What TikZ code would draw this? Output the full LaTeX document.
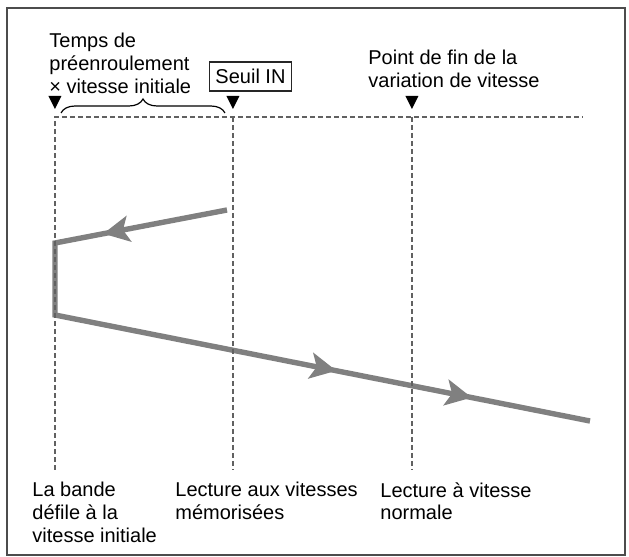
\documentclass[tikz,border=0pt]{standalone}
\usepackage{fontspec}
\setmainfont{Liberation Sans}
\usetikzlibrary{arrows.meta,decorations.pathreplacing,decorations.markings}

\begin{document}
\begin{tikzpicture}[x=0.5pt,y=-0.5pt,
  guide/.style={draw=black!62,line width=0.8pt,dash pattern=on 2.6pt off 1.4pt},
  tape/.style={color=black!50,line width=2.7pt},
  tapetip/.tip={Stealth[length=13pt,width=13pt,inset=3pt]},
  label/.style={font=\fontsize{10}{11.3}\selectfont,align=left,anchor=north west,inner sep=0pt}]
  \useasboundingbox (0,0) rectangle (629,557);
  \draw[black!70,line width=0.75pt] (7,8) rectangle (625,555); % frame

  % guide lines (top and bottom ends)
  \coordinate (g1) at (55,117);  \coordinate (g1b) at (55,470);
  \coordinate (g2) at (233,117); \coordinate (g2b) at (233,470);
  \coordinate (g3) at (412,117); \coordinate (g3b) at (412,470);
  \coordinate (hEnd) at (583,117);

  % tape path
  \coordinate (tA) at (227,210);
  \coordinate (tB) at (55,243);
  \coordinate (tC) at (55,315);
  \coordinate (tD) at (590,421);
  \draw[tape,postaction={decorate},decoration={markings,
      mark=at position 63pt with {\arrow{tapetip}},
      mark=at position 267pt with {\arrow{tapetip}},
      mark=at position 336pt with {\arrow{tapetip}}}]
    (tA) -- (tB) -- (tC) -- (tD);

  % dashed guides on top
  \draw[guide] (g1b) -- (g1) -- (hEnd);
  \draw[guide] (g2) -- (g2b);
  \draw[guide] (g3) -- (g3b);

  % pointers
  \foreach \g in {g1,g2,g3}
    \fill ([shift={(-6.5,-21)}]\g) -- ([shift={(6.5,-21)}]\g) -- ([shift={(0,-8)}]\g) -- cycle;

  % brace over the preroll distance
  \coordinate (brL) at (61,113);
  \coordinate (brR) at (225,113);
  \draw[line width=0.6pt,decorate,decoration={brace,amplitude=7pt}] (brL) -- (brR);

  % labels
  \node[label] (preroll) at (49,33) {Temps de\\préenroulement\\× vitesse initiale};
  \node[draw=black!85,line width=0.7pt,font=\fontsize{10}{11.3}\selectfont,
        inner xsep=3pt,inner ysep=0pt,minimum height=14.5pt] (seuil) at (250.5,76.5) {Seuil IN};
  \node[label] (finvar) at (368,50) {Point de fin de la\\variation de vitesse};
  \node[label] (bande) at (32,482) {La bande\\défile à la\\vitesse initiale};
  \node[label] (memo) at (175,482) {Lecture aux vitesses\\mémorisées};
  \node[label] (normale) at (380,482) {Lecture à vitesse\\normale};
\end{tikzpicture}
\end{document}
